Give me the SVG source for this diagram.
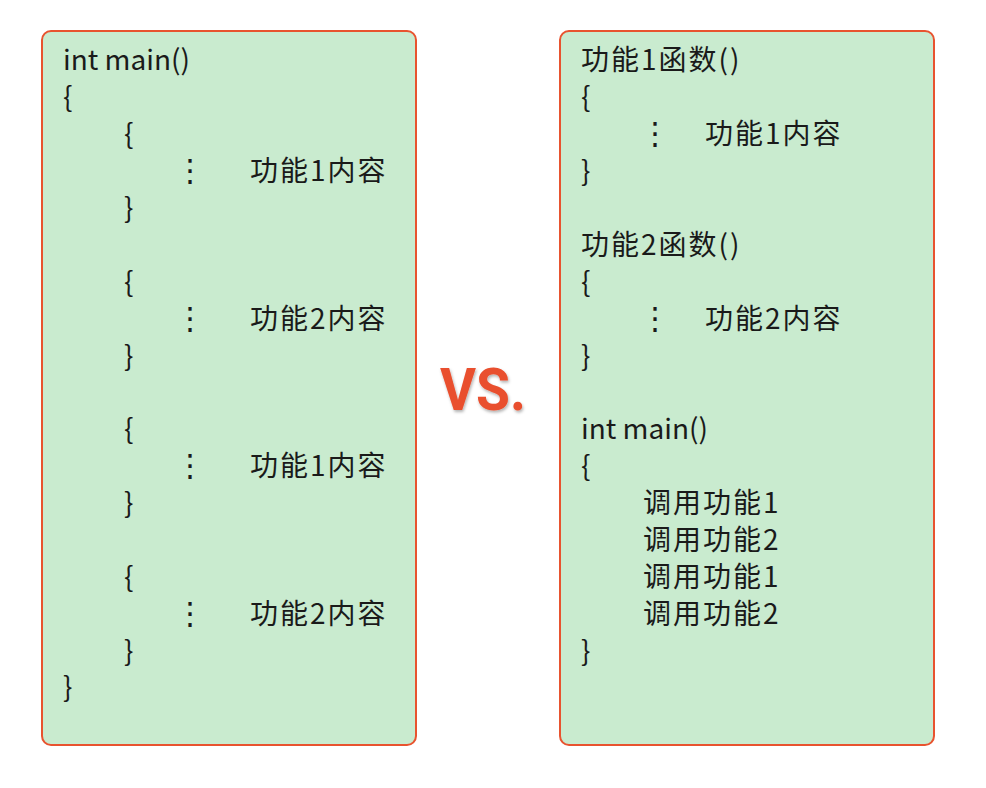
<svg xmlns="http://www.w3.org/2000/svg" width="986" height="788" viewBox="0 0 986 788">
<defs>
<style>
.box{fill:#C9EBCF;stroke:#E8532F;stroke-width:2}
.t{font-family:"Noto Sans CJK SC","Noto Sans",sans-serif;font-size:28px;fill:#1a1a1a}
.c{letter-spacing:2px}
.d{font-family:"DejaVu Sans",sans-serif;font-size:31px;fill:#1a1a1a;text-anchor:middle}
.vs{font-family:Roboto,"Liberation Sans",sans-serif;font-weight:bold;font-size:60px;fill:#E9502F}
</style>
<filter id="sh" x="-20%" y="-20%" width="140%" height="140%">
<feDropShadow dx="1" dy="2" stdDeviation="1.5" flood-color="#000" flood-opacity="0.3"/>
</filter>
</defs>
<rect width="986" height="788" fill="#fff"/>
<g id="left">
<rect class="box" x="42" y="31" width="374" height="714" rx="9"/>
<text class="t" x="63" y="70">int main()</text>
<text class="t" x="63" y="107">{</text>
<text class="t" x="124" y="144">{</text>
<text class="d" x="190" y="181">⋮</text>
<text class="t c" x="250" y="181">功能1内容</text>
<text class="t" x="124" y="218">}</text>
<text class="t" x="124" y="292">{</text>
<text class="d" x="190" y="329">⋮</text>
<text class="t c" x="250" y="329">功能2内容</text>
<text class="t" x="124" y="366">}</text>
<text class="t" x="124" y="439">{</text>
<text class="d" x="190" y="476">⋮</text>
<text class="t c" x="250" y="476">功能1内容</text>
<text class="t" x="124" y="513">}</text>
<text class="t" x="124" y="587">{</text>
<text class="d" x="190" y="624">⋮</text>
<text class="t c" x="250" y="624">功能2内容</text>
<text class="t" x="124" y="661">}</text>
<text class="t" x="63" y="697">}</text>
</g>
<g id="vs">
<text class="vs" x="440" y="410" filter="url(#sh)" textLength="86" lengthAdjust="spacingAndGlyphs">VS.</text>
</g>
<g id="right">
<rect class="box" x="560" y="31" width="374" height="714" rx="9"/>
<text class="t c" x="581" y="70">功能1函数()</text>
<text class="t" x="581" y="107">{</text>
<text class="d" x="655" y="144">⋮</text>
<text class="t c" x="705" y="144">功能1内容</text>
<text class="t" x="581" y="181">}</text>
<text class="t c" x="581" y="255">功能2函数()</text>
<text class="t" x="581" y="292">{</text>
<text class="d" x="655" y="329">⋮</text>
<text class="t c" x="705" y="329">功能2内容</text>
<text class="t" x="581" y="366">}</text>
<text class="t" x="581" y="439">int main()</text>
<text class="t" x="581" y="476">{</text>
<text class="t c" x="643" y="513">调用功能1</text>
<text class="t c" x="643" y="550">调用功能2</text>
<text class="t c" x="643" y="587">调用功能1</text>
<text class="t c" x="643" y="624">调用功能2</text>
<text class="t" x="581" y="661">}</text>
</g>
<g id="connectors"></g>
</svg>
